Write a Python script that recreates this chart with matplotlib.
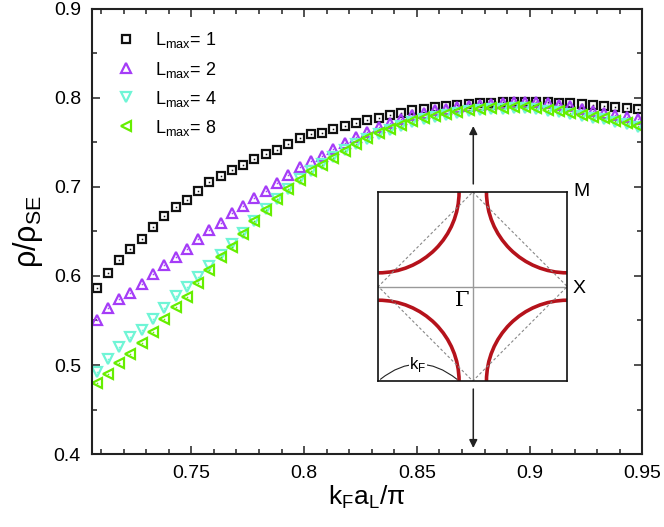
import numpy as np
import matplotlib
matplotlib.use('Agg')
import matplotlib.pyplot as plt
from matplotlib.patches import Arc, FancyArrowPatch

plt.rcParams['font.family'] = ['Liberation Sans Narrow', 'Liberation Sans', 'DejaVu Sans']
plt.rcParams['mathtext.fontset'] = 'custom'
plt.rcParams['mathtext.rm'] = 'Liberation Sans'

# ---- data ----
kf = [round(0.708 + 0.005 * i, 3) for i in range(49)]

rho_L1 = [0.5865, 0.603, 0.618, 0.630, 0.642, 0.655, 0.667, 0.677, 0.685, 0.696,
          0.706, 0.712, 0.719, 0.725, 0.7315, 0.737, 0.742, 0.7485, 0.755, 0.759,
          0.761, 0.7648, 0.7688, 0.7723, 0.775, 0.778, 0.781, 0.783, 0.786, 0.788,
          0.790, 0.791, 0.792, 0.793, 0.794, 0.7945, 0.795, 0.7953, 0.7955, 0.7952,
          0.795, 0.7945, 0.794, 0.793, 0.792, 0.7905, 0.790, 0.789, 0.788]
rho_L2 = [0.5506, 0.5637, 0.5738, 0.5813, 0.591, 0.602, 0.612, 0.6217, 0.6307, 0.6412,
          0.6517, 0.660, 0.6704, 0.679, 0.688, 0.695, 0.7048, 0.7135, 0.723, 0.729,
          0.735, 0.7424, 0.7498, 0.7558, 0.7615, 0.767, 0.7716, 0.776, 0.781, 0.7835,
          0.786, 0.788, 0.7897, 0.791, 0.7925, 0.7935, 0.794, 0.795, 0.7955, 0.795,
          0.794, 0.7925, 0.7905, 0.788, 0.7855, 0.7835, 0.781, 0.7785, 0.776]
rho_L4 = [0.4925, 0.5064, 0.5206, 0.531, 0.5393, 0.5517, 0.5637, 0.5775, 0.5873, 0.5985,
          0.611, 0.624, 0.636, 0.6485, 0.662, 0.675, 0.6865, 0.698, 0.7085, 0.7185,
          0.7255, 0.7335, 0.741, 0.748, 0.754, 0.7595, 0.764, 0.769, 0.773, 0.776,
          0.7785, 0.781, 0.783, 0.785, 0.7865, 0.7875, 0.788, 0.7885, 0.7885, 0.788,
          0.7855, 0.784, 0.782, 0.780, 0.778, 0.776, 0.7735, 0.7705, 0.767]
rho_L8 = [0.4794, 0.4899, 0.5019, 0.5124, 0.5244, 0.5374, 0.5513, 0.5655, 0.5767, 0.5918,
          0.607, 0.6217, 0.633, 0.6469, 0.6621, 0.674, 0.686, 0.6978, 0.708, 0.718,
          0.7247, 0.733, 0.7408, 0.7483, 0.7547, 0.7603, 0.7648, 0.7697, 0.7742, 0.777,
          0.7795, 0.782, 0.784, 0.786, 0.7875, 0.7885, 0.789, 0.7895, 0.7895, 0.789,
          0.7865, 0.785, 0.783, 0.781, 0.779, 0.777, 0.7745, 0.7716, 0.768]

series = [
    (rho_L1, 's', '#111111', 6.0, r'L$_{\rm max}$= 1'),
    (rho_L2, '^', '#a53cf7', 7.6, r'L$_{\rm max}$= 2'),
    (rho_L4, 'v', '#6ff5d6', 7.6, r'L$_{\rm max}$= 4'),
    (rho_L8, '<', '#66ee00', 7.6, r'L$_{\rm max}$= 8'),
]

xticks = [0.75, 0.8, 0.85, 0.9, 0.95]
xticklabels = ['0.75', '0.8', '0.85', '0.9', '0.95']
yticks = [0.4, 0.5, 0.6, 0.7, 0.8, 0.9]
yticklabels = ['0.4', '0.5', '0.6', '0.7', '0.8', '0.9']
arrow_x = 0.875

fig = plt.figure(figsize=(6.64, 5.27), dpi=100)
ax = fig.add_axes([0.1386, 0.1385, 0.829, 0.8445])

for ys, mk, col, ms, lab in series:
    ax.plot(kf, ys, linestyle='none', marker=mk, markersize=ms, markerfacecolor='none',
            markeredgecolor=col, markeredgewidth=1.6, label=lab)
    ax.plot(kf, ys, linestyle='none', marker='s', markersize=1.1, color=col,
            markeredgewidth=0)

ax.set_xlim(0.706, 0.95)
ax.set_ylim(0.4, 0.9)
ax.set_xticks(xticks)
ax.set_xticklabels(xticklabels)
ax.set_yticks(yticks)
ax.set_yticklabels(yticklabels)
ax.set_xticks(np.arange(0.71, 0.951, 0.01), minor=True)
ax.set_yticks(np.arange(0.4, 0.901, 0.05), minor=True)
ax.tick_params(which='both', direction='in', top=True, right=True, labelsize=14,
               width=1.1, color='#222222')
ax.tick_params(which='major', length=6, pad=8)
ax.tick_params(which='minor', length=3.5)
for s in ax.spines.values():
    s.set_linewidth(1.5)
    s.set_color('#222222')

ax.set_xlabel(r'k$_{\rm F}$a$_{\rm L}$/π', fontsize=19, labelpad=1)
ax.set_ylabel(r'ρ/ρ$_{\rm SE}$', fontsize=22, labelpad=6)

leg = ax.legend(loc='upper left', bbox_to_anchor=(0.016, 0.98), frameon=False,
                fontsize=13, handletextpad=0.9, labelspacing=0.5, borderaxespad=0.3,
                handlelength=1.4)

# arrows
ax.annotate('', xy=(arrow_x, 0.7685), xytext=(arrow_x, 0.7034),
            arrowprops=dict(arrowstyle='-|>', color='#222222', lw=1.1,
                            mutation_scale=12, shrinkA=0, shrinkB=0))
ax.annotate('', xy=(arrow_x, 0.4067), xytext=(arrow_x, 0.473),
            arrowprops=dict(arrowstyle='-|>', color='#222222', lw=1.1,
                            mutation_scale=12, shrinkA=0, shrinkB=0))

# inset: Brillouin zone sketch
ins = fig.add_axes([0.5697, 0.277, 0.2846, 0.3586])
ins.set_xlim(-1, 1)
ins.set_ylim(-1, 1)
ins.set_xticks([])
ins.set_yticks([])
for s in ins.spines.values():
    s.set_linewidth(1.2)
    s.set_color('#111111')
ins.axhline(0, color='#999999', lw=1.0)
ins.axvline(0, color='#999999', lw=1.0)
ins.plot([0, 1, 0, -1, 0], [1, 0, -1, 0, 1], color='#888888', lw=0.8,
         linestyle=(0, (2.5, 2)))
r = 0.855
for cx, cy, t1, t2 in [(-1, 1, 270, 360), (1, 1, 180, 270), (-1, -1, 0, 90), (1, -1, 90, 180)]:
    ins.add_patch(Arc((cx, cy), 2 * r, 2 * r, theta1=t1, theta2=t2, color='#b5121b', lw=2.6))
ins.add_patch(FancyArrowPatch((-1, -1), (-1 + r, -1), arrowstyle='-',
                              connectionstyle='arc3,rad=-0.42', color='#222222', lw=0.8))
ins.text(-0.58, -0.82, r'k$_{\rm F}$', fontsize=12, ha='center', va='center',
         bbox=dict(facecolor='white', edgecolor='none', pad=0.5))
ins.text(-0.11, -0.15, 'Γ', fontsize=15, family='DejaVu Serif', ha='center', va='center')
fig.text(0.863, 0.637, 'M', fontsize=14, ha='left', va='center')
fig.text(0.863, 0.453, 'X', fontsize=14, ha='left', va='center')

fig.savefig('out.png', dpi=100)
